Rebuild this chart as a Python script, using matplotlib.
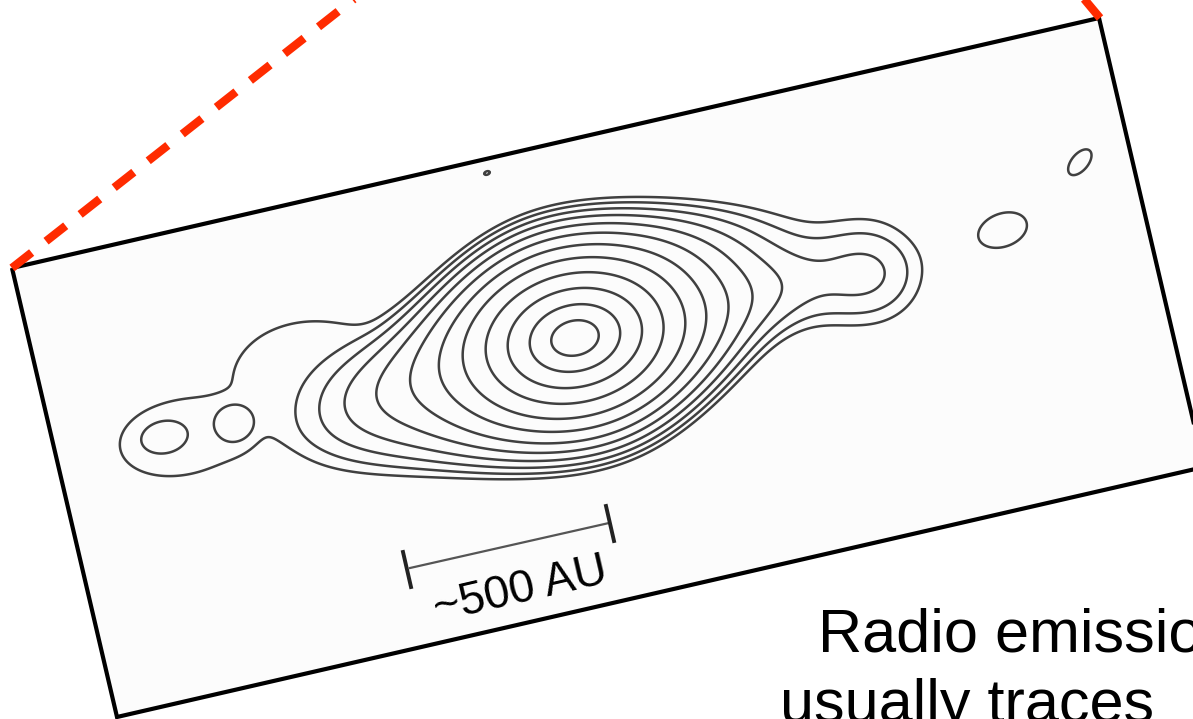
import numpy as np
import matplotlib.pyplot as plt
from matplotlib.patches import Polygon

W, H = 1193, 719

# rotated frame of the radio map (pixel corners)
FRAME_X = [12, 1099, 1204, 117]
FRAME_Y = [268, 18, 467, 717]

# main source: exponential core cut by two soft slabs
CORE_X, CORE_Y = 575, 338
CORE_A, CORE_B, CORE_ANG = 47, 34, 13
SLAB_ANG = [3, 43]
SLAB_HALF = [128, 130]
SLAB_POW = 6

# extra components; members of a group are summed, groups are merged with a soft max
BLOB_NAME = ["left body", "arm bridge", "arm end", "right blob", "far blob", "dot",
             "neck", "left lobe", "blob A", "blob B"]
BLOB_GROUP = [0, 0, 0, 0, 0, 0, 1, 2, 2, 2]
BLOB_X = [385, 800, 872, 1003, 1080, 487, 315, 185, 163, 238]
BLOB_Y = [392, 292, 272, 230, 162, 173, 382, 437, 437, 422]
BLOB_SA = [65, 55, 36, 33, 20, 4, 95, 77, 19, 17]
BLOB_SB = [40, 28, 36, 22, 11, 2.3, 70, 46, 13, 17]
BLOB_ANG = [13, 13, 13, 20, 50, 20, 0, 13, 10, 60]
BLOB_POW = [2, 2, 2, 2, 2, 2, 6, 4, 2, 2]
BLOB_AMP = [0.012, 0.006, 0.0075, 0.0045, 0.0045, 0.0045,
            0.0042, 0.0042, 0.003, 0.0036]
SOFT_MAX = 4

LEVELS = [0.0034, 0.0055, 0.0088, 0.014, 0.0225, 0.036, 0.058,
          0.092, 0.148, 0.236, 0.378, 0.6]


def rotate(x, y, cx, cy, ang):
    t = np.deg2rad(ang)
    dx, dy = x - cx, y - cy
    return dx * np.cos(t) - dy * np.sin(t), dx * np.sin(t) + dy * np.cos(t)


xx, yy = np.meshgrid(np.arange(0, W + 1, 1.0), np.arange(0, H + 1, 1.0))

u, v = rotate(xx, yy, CORE_X, CORE_Y, CORE_ANG)
log_main = -np.sqrt((u / CORE_A) ** 2 + (v / CORE_B) ** 2)
for ang, half in zip(SLAB_ANG, SLAB_HALF):
    _, s = rotate(xx, yy, CORE_X, CORE_Y, ang)
    log_main -= (np.abs(s) / half) ** SLAB_POW

groups = [np.exp(log_main), np.zeros_like(xx), np.zeros_like(xx)]
for g, bx, by, sa, sb, ang, p, amp in zip(BLOB_GROUP, BLOB_X, BLOB_Y, BLOB_SA,
                                          BLOB_SB, BLOB_ANG, BLOB_POW, BLOB_AMP):
    u, v = rotate(xx, yy, bx, by, ang)
    r = np.sqrt((u / sa) ** 2 + (v / sb) ** 2)
    groups[g] += amp * np.exp(-0.5 * r ** p)
field = sum(g ** SOFT_MAX for g in groups) ** (1 / SOFT_MAX)

fig = plt.figure(figsize=(W / 100, H / 100), dpi=100)
ax = fig.add_axes([0, 0, 1, 1])
ax.set_xlim(0, W)
ax.set_ylim(H, 0)
ax.axis("off")

frame = Polygon(np.column_stack([FRAME_X, FRAME_Y]), closed=True,
                facecolor="#fcfcfc", edgecolor="none", zorder=1)
ax.add_patch(frame)

cs = ax.contour(xx, yy, field, levels=LEVELS, colors="#404040",
                linewidths=1.8, zorder=2)
cs.set_clip_path(frame)

ax.add_patch(Polygon(np.column_stack([FRAME_X, FRAME_Y]), closed=True,
                     facecolor="none", edgecolor="black", lw=3, zorder=3))

# zoom lines
red = "#ff2b00"
ax.plot([12, 420], [268, -53], color=red, lw=6, dashes=(3.0, 2.2),
        dash_capstyle="butt", zorder=4)
ax.plot([1100, 1070], [18, -18], color=red, lw=6, dashes=(3.0, 2.2),
        dash_capstyle="butt", zorder=4)

# scale bar
ax.plot([410, 609], [568, 523], color="#555555", lw=1.6, zorder=4)
ax.plot([403, 411], [552, 587], color="#222222", lw=2.8, zorder=4)
ax.plot([606, 614], [506, 541], color="#222222", lw=2.8, zorder=4)
ax.text(521, 590, "~500 AU", fontsize=33, family="Liberation Sans",
        rotation=13, rotation_mode="anchor", ha="center", va="center", zorder=5)

ax.text(818, 652, "Radio emission", fontsize=44, family="Liberation Sans",
        va="baseline", ha="left")
ax.text(780, 722, "usually traces", fontsize=44, family="Liberation Sans",
        va="baseline", ha="left")

fig.savefig("out.png", dpi=100)
